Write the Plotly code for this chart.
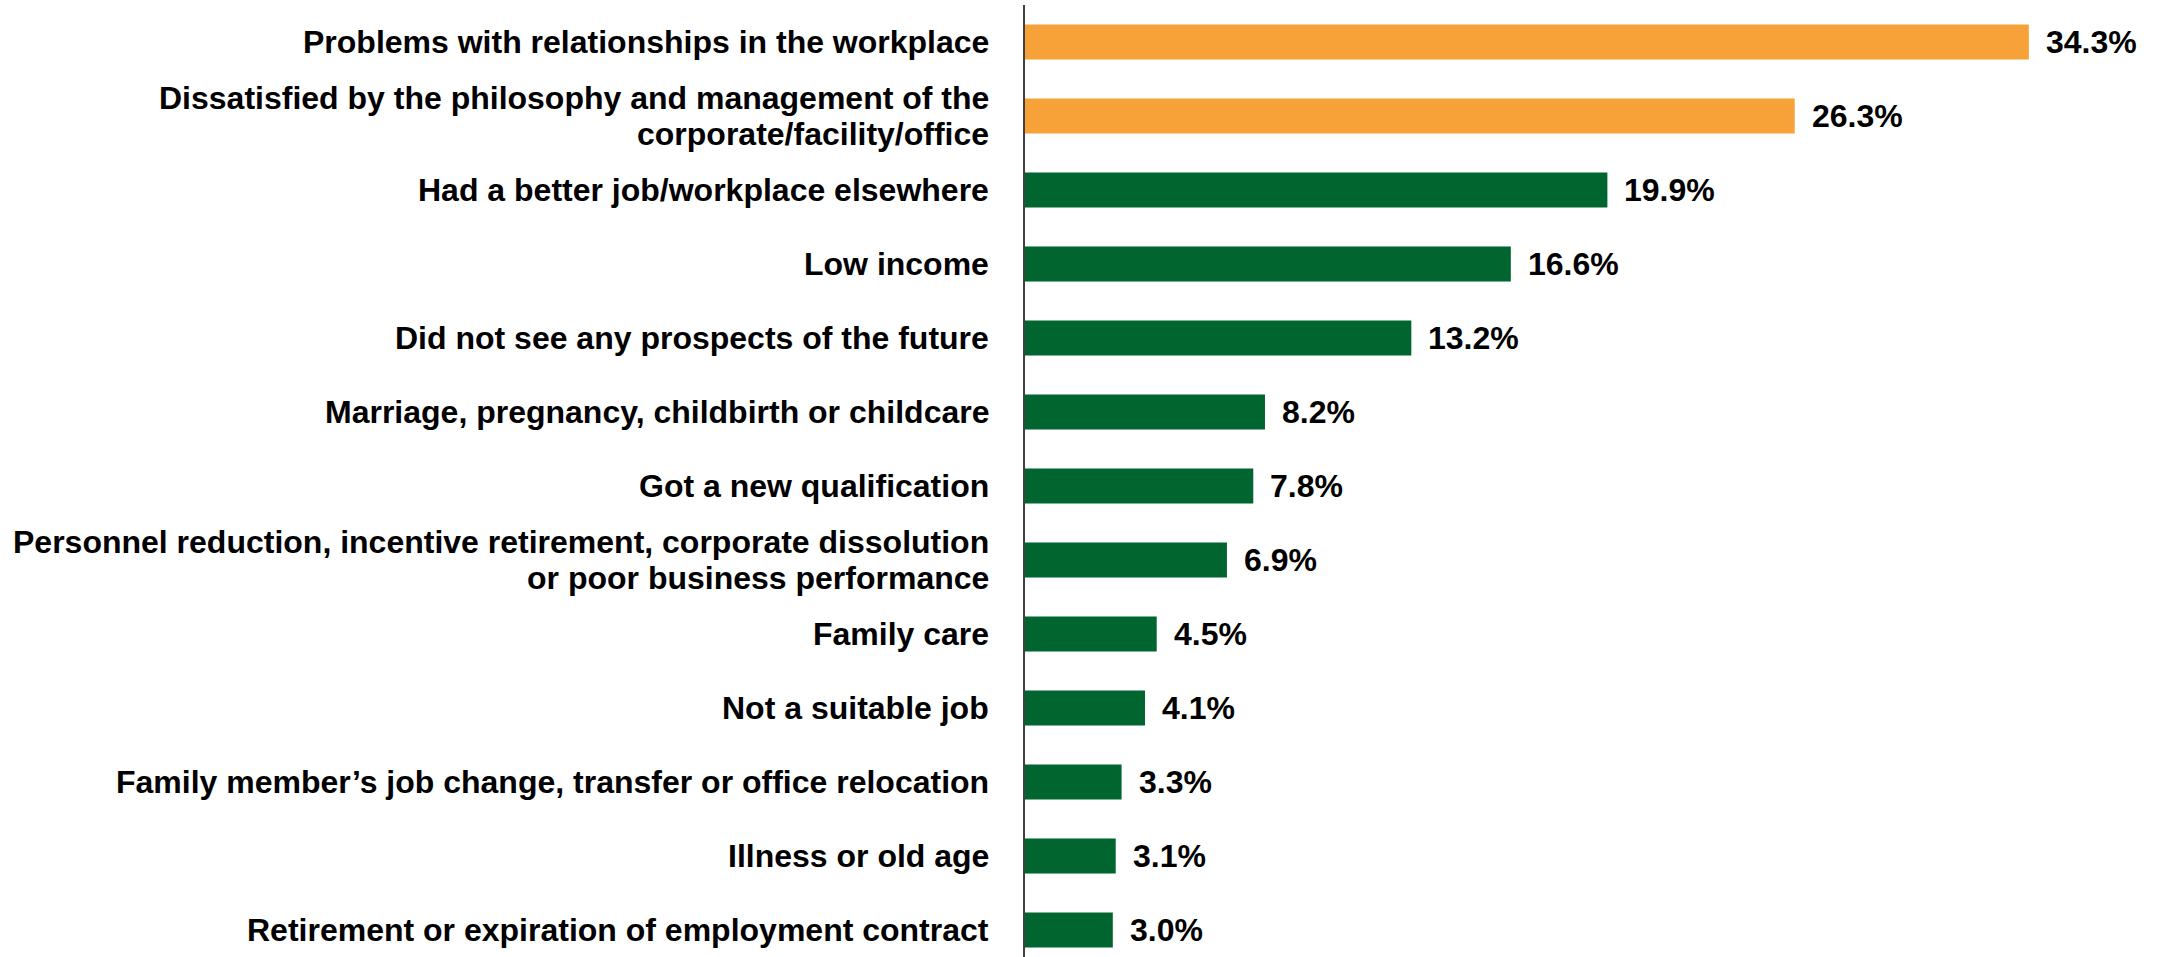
import plotly.graph_objects as go

# Reasons for leaving the previous job (share of respondents, %)
categories = [
    "Problems with relationships in the workplace",
    "Dissatisfied by the philosophy and management of the<br>corporate/facility/office",
    "Had a better job/workplace elsewhere",
    "Low income",
    "Did not see any prospects of the future",
    "Marriage, pregnancy, childbirth or childcare",
    "Got a new qualification",
    "Personnel reduction, incentive retirement, corporate dissolution<br>or poor business performance",
    "Family care",
    "Not a suitable job",
    "Family member\u2019s job change, transfer or office relocation",
    "Illness or old age",
    "Retirement or expiration of employment contract",
]
values = [34.3, 26.3, 19.9, 16.6, 13.2, 8.2, 7.8, 6.9, 4.5, 4.1, 3.3, 3.1, 3.0]
highlighted = [True, True] + [False] * 11

ORANGE = "#F7A239"
GREEN = "#00652E"
FONT = "Liberation Sans, Arial, sans-serif"
SIZE = 32
LINE_STEP = 36  # vertical distance between lines of a wrapped category label

colors = [ORANGE if h else GREEN for h in highlighted]
idx = list(range(len(categories)))

fig = go.Figure(
    go.Bar(
        x=values,
        y=idx,
        orientation="h",
        marker=dict(color=colors, line=dict(width=0)),
        width=0.47,
        hoverinfo="skip",
    )
)

# value labels to the right of each bar
for i, v in zip(idx, values):
    fig.add_annotation(
        x=v, y=i, xref="x", yref="y",
        text=f"<b>{v:.1f}%</b>",
        showarrow=False, xanchor="left", yanchor="middle",
        xshift=15,
        font=dict(family=FONT, size=SIZE, color="#000000"),
    )

# category labels, right-aligned against the axis, one annotation per line
for i, cat in zip(idx, categories):
    lines = cat.split("<br>")
    n = len(lines)
    for k, line in enumerate(lines):
        fig.add_annotation(
            x=0, y=i, xref="paper", yref="y",
            text=f"<b>{line}</b>",
            showarrow=False, xanchor="right", yanchor="middle",
            xshift=-34,
            yshift=((n - 1) / 2 - k) * LINE_STEP,
            font=dict(family=FONT, size=SIZE, color="#000000"),
        )

fig.update_layout(
    width=2162,
    height=957,
    margin=dict(l=1025, r=0, t=5, b=0),
    paper_bgcolor="white",
    plot_bgcolor="white",
    showlegend=False,
    font=dict(family=FONT, size=SIZE, color="#000000"),
)
fig.update_xaxes(
    range=[0, 38.85],
    visible=False,
    showgrid=False,
    zeroline=False,
)
fig.update_yaxes(
    range=[12.365, -0.5],
    showticklabels=False,
    showgrid=False,
    zeroline=False,
    showline=True,
    linecolor="#404040",
    linewidth=2,
    ticks="",
    automargin=False,
)

fig.write_html("out.html")
